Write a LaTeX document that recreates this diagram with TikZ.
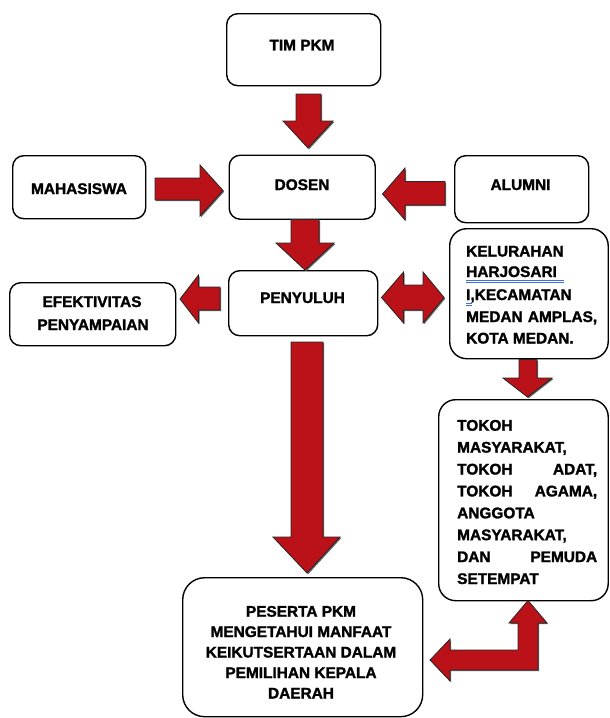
\documentclass[tikz,border=0pt]{standalone}
\usepackage{fontspec}
\setmainfont{Liberation Sans}[BoldFont={Liberation Sans Bold}]
\newfontfamily\hv{Liberation Sans Bold}[FakeBold=1.6]
\definecolor{arrred}{RGB}{186,18,24}
\definecolor{ulblue}{RGB}{60,110,230}
\newcommand\barrow[1]{%
  \begin{scope}[shift={(1.2,1.2)}]\fill[black!60] #1 -- cycle;\end{scope}%
  \filldraw[fill=arrred, draw=black!85, line width=0.8pt, line join=miter] #1 -- cycle;}
\begin{document}
\begin{tikzpicture}[x=1pt,y=-1pt,
  box/.style={draw=black, line width=1.4pt, fill=white, rounded corners=11pt,
              inner sep=0pt, anchor=north west},
  bigbox/.style={box, rounded corners=17pt},
  txt/.style={font=\hv\fontsize{15.4}{20}\selectfont, inner sep=0pt, anchor=base},
  ltxt/.style={txt, anchor=base west}]
\useasboundingbox (0,0) rectangle (610,718);
\fill[white] (0,0) rectangle (610,718);

% boxes
\node[box, minimum width=154pt, minimum height=72pt] (tim) at (226,13) {};
\node[box, minimum width=133pt, minimum height=63pt] (maha) at (12,155) {};
\node[box, minimum width=146pt, minimum height=64pt] (dosen) at (228.5,154.5) {};
\node[box, minimum width=134pt, minimum height=67pt] (alumni) at (454,155) {};
\node[box, minimum width=149pt, minimum height=65pt] (peny) at (228,270) {};
\node[box, minimum width=166pt, minimum height=63pt] (efek) at (9,282) {};
\node[bigbox, minimum width=158.5pt, minimum height=130pt] (kel) at (449,228) {};
\node[bigbox, minimum width=169.5pt, minimum height=201pt] (tokoh) at (438,399) {};
\node[bigbox, minimum width=240pt, minimum height=139pt, rounded corners=22pt] (pes) at (182,577) {};

% texts
\node[txt] (ttim) at (302,50.4) {TIM PKM};
\node[txt] (tmaha) at (79,194) {MAHASISWA};
\node[txt] (tdosen) at (302,190) {DOSEN};
\node[txt] (talumni) at (520.5,190) {ALUMNI};
\node[txt] (tpeny) at (302.5,303) {PENYULUH};
\node[txt] (tefek1) at (92,307) {EFEKTIVITAS};
\node[txt] (tefek2) at (93,330) {PENYAMPAIAN};

\node[ltxt] (kel1) at (466,256.5) {KELURAHAN};
\node[ltxt] (kel2) at (466,277) {HARJOSARI};
\node[ltxt] (kel3) at (466,300) {I,KECAMATAN};
\node[ltxt] (kel4) at (466,322) {\hbox to 131pt{MEDAN\hfill AMPLAS,}};
\node[ltxt] (kel5) at (466,343.5) {KOTA MEDAN.};
\draw[ulblue, line width=0.5pt] (466,280.3) -- (564,280.3) (466,282.1) -- (564,282.1);
\draw[ulblue, line width=0.5pt] (466,303.6) -- (472,303.6) (466,305.4) -- (472,305.4);

\node[ltxt] (tok1) at (457,430.7) {TOKOH};
\node[ltxt] (tok2) at (457,452.6) {MASYARAKAT,};
\node[ltxt] (tok3) at (457,474.5) {\hbox to 140pt{TOKOH\hfill ADAT,}};
\node[ltxt] (tok4) at (457,496.4) {\hbox to 140pt{TOKOH\hfill AGAMA,}};
\node[ltxt] (tok5) at (457,518.3) {ANGGOTA};
\node[ltxt] (tok6) at (457,540.2) {MASYARAKAT,};
\node[ltxt] (tok7) at (457,562.1) {\hbox to 140pt{DAN\hfill PEMUDA}};
\node[ltxt] (tok8) at (457,584) {SETEMPAT};

\node[txt] (pes1) at (301,616.7) {PESERTA PKM};
\node[txt] (pes2) at (301,637) {MENGETAHUI MANFAAT};
\node[txt] (pes3) at (301,657.5) {KEIKUTSERTAAN DALAM};
\node[txt] (pes4) at (301,678) {PEMILIHAN KEPALA};
\node[txt] (pes5) at (301,698.5) {DAERAH};

% block arrows
\barrow{(296,94)--(321,94)--(321,121)--(333,121)--(308,148)--(283,121)--(296,121)}
\barrow{(291,219.5)--(319,219.5)--(319,243)--(334,243)--(305,270)--(276,243)--(291,243)}
\barrow{(155,178)--(200,178)--(200,165)--(223,190.5)--(200,216)--(200,200)--(155,200)}
\barrow{(445,181.5)--(405,181.5)--(405,168)--(382.5,194)--(405,220)--(405,205)--(445,205)}
\barrow{(220,287)--(198.5,287)--(198.5,275)--(180,299)--(198.5,323)--(198.5,310)--(220,310)}
\barrow{(381.5,297.5)--(403.5,272)--(403.5,285)--(423,285)--(423,272)--(444,297.5)--(423,323)--(423,310)--(403.5,310)--(403.5,323)}
\barrow{(519,359.5)--(537,359.5)--(537,378)--(552,378)--(527.5,397)--(503,378)--(519,378)}
\barrow{(291,342)--(323,342)--(323,537)--(340,537)--(307,573)--(273,537)--(291,537)}
\barrow{(528,600.5)--(547,623)--(538,623)--(538,670)--(450,670)--(450,681)--(430,660)--(450,639)--(450,650)--(518,650)--(518,623)--(509,623)}
\end{tikzpicture}
\end{document}
